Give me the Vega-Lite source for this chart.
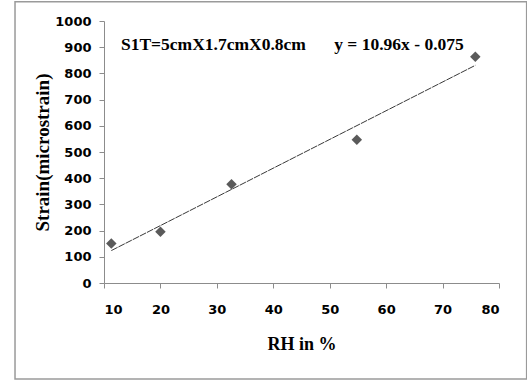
{
  "$schema": "https://vega.github.io/schema/vega-lite/v6.json",
  "width": 395,
  "height": 262,
  "autosize": {"type": "none"},
  "padding": {"left": 104, "top": 21, "right": 28, "bottom": 98},
  "background": "white",
  "config": {
    "view": {"stroke": null},
    "axis": {
      "grid": false,
      "domainColor": "#8c8c8c",
      "tickColor": "#8c8c8c",
      "tickSize": 5,
      "labelFont": "DejaVu Sans",
      "labelFontSize": 13,
      "labelFontWeight": "bold",
      "labelColor": "#000000",
      "titleFont": "Liberation Serif",
      "titleFontWeight": "bold",
      "titleColor": "#000000",
      "format": "d"
    },
    "axisX": {"labelPadding": 15, "titleFontSize": 18, "titlePadding": 19},
    "axisY": {"labelPadding": 8, "titleFontSize": 19, "titlePadding": 2}
  },
  "datasets": {
    "points": [
      {"rh": 11.3, "strain": 151},
      {"rh": 20.0, "strain": 196},
      {"rh": 32.6, "strain": 377},
      {"rh": 54.8, "strain": 547},
      {"rh": 75.8, "strain": 864}
    ],
    "trend": [
      {"rh": 11.3, "strain": 123.8},
      {"rh": 75.8, "strain": 830.7}
    ],
    "notes": [
      {"rh": 13.0, "strain": 908, "label": "S1T=5cmX1.7cmX0.8cm"},
      {"rh": 50.8, "strain": 908, "label": "y = 10.96x - 0.075"}
    ],
    "frame": [{"x0": -5.77, "x1": 84.9, "y0": 1073, "y1": -366}]
  },
  "layer": [
    {
      "data": {"name": "frame"},
      "mark": {"type": "rect", "fill": "transparent", "stroke": "#9a9a9a", "strokeWidth": 1.5},
      "encoding": {
        "x": {"field": "x0", "type": "quantitative", "scale": {"domain": [10, 80], "nice": false, "zero": false},
              "axis": {"title": "RH in %", "values": [10, 20, 30, 40, 50, 60, 70, 80]}},
        "x2": {"field": "x1"},
        "y": {"field": "y0", "type": "quantitative", "scale": {"domain": [0, 1000], "nice": false},
              "axis": {"title": "Strain(microstrain)", "values": [0, 100, 200, 300, 400, 500, 600, 700, 800, 900, 1000]}},
        "y2": {"field": "y1"}
      }
    },
    {
      "data": {"name": "trend"},
      "mark": {"type": "line", "color": "#222222", "strokeWidth": 0.9, "strokeDash": [7, 1]},
      "encoding": {
        "x": {"field": "rh", "type": "quantitative", "scale": {"domain": [10, 80], "nice": false, "zero": false},
              "axis": {"title": "RH in %", "values": [10, 20, 30, 40, 50, 60, 70, 80]}},
        "y": {"field": "strain", "type": "quantitative", "scale": {"domain": [0, 1000], "nice": false},
              "axis": {"title": "Strain(microstrain)", "values": [0, 100, 200, 300, 400, 500, 600, 700, 800, 900, 1000]}}
      }
    },
    {
      "data": {"name": "points"},
      "mark": {"type": "point", "shape": "diamond", "filled": true, "color": "#5a5a5a", "size": 110, "opacity": 1},
      "encoding": {
        "x": {"field": "rh", "type": "quantitative", "scale": {"domain": [10, 80], "nice": false, "zero": false},
              "axis": {"title": "RH in %", "values": [10, 20, 30, 40, 50, 60, 70, 80]}},
        "y": {"field": "strain", "type": "quantitative", "scale": {"domain": [0, 1000], "nice": false},
              "axis": {"title": "Strain(microstrain)", "values": [0, 100, 200, 300, 400, 500, 600, 700, 800, 900, 1000]}}
      }
    },
    {
      "data": {"name": "notes"},
      "mark": {"type": "text", "align": "left", "baseline": "middle", "font": "Liberation Serif", "fontWeight": "bold", "fontSize": 17.5, "color": "#000000"},
      "encoding": {
        "x": {"field": "rh", "type": "quantitative", "scale": {"domain": [10, 80], "nice": false, "zero": false},
              "axis": {"title": "RH in %", "values": [10, 20, 30, 40, 50, 60, 70, 80]}},
        "y": {"field": "strain", "type": "quantitative", "scale": {"domain": [0, 1000], "nice": false},
              "axis": {"title": "Strain(microstrain)", "values": [0, 100, 200, 300, 400, 500, 600, 700, 800, 900, 1000]}},
        "text": {"field": "label"}
      }
    }
  ]
}
